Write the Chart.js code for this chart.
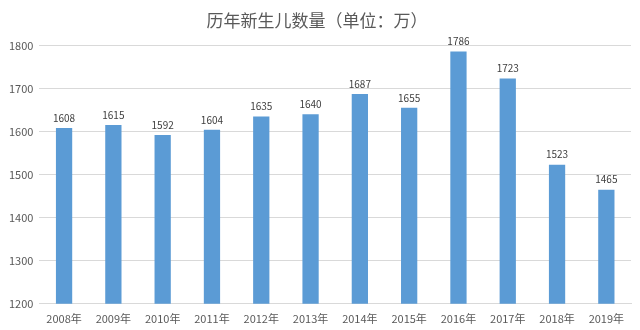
<!DOCTYPE html>
<html>
<head>
<meta charset="utf-8">
<script src="https://cdn.jsdelivr.net/npm/chart.js@4/dist/chart.umd.min.js"></script>
<style>
  html, body { margin: 0; padding: 0; background: #fff; }
  #wrap { width: 640px; height: 330px; }
</style>
</head>
<body>
<div id="wrap"><canvas id="chart"></canvas></div>
<script>
const years = ['2008年', '2009年', '2010年', '2011年', '2012年', '2013年',
               '2014年', '2015年', '2016年', '2017年', '2018年', '2019年'];
const births = [1608, 1615, 1592, 1604, 1635, 1640, 1687, 1655, 1786, 1723, 1523, 1465];
const yMin = 1200;
const yMax = 1800;
const yStep = 100;

const fontFamily = '"Noto Sans CJK SC", "Noto Sans", sans-serif';

// draw the value above each bar
const barLabels = {
    id: 'barLabels',
    afterDatasetsDraw(chart) {
        const ctx = chart.ctx;
        const meta = chart.getDatasetMeta(0);
        ctx.save();
        ctx.font = '10px ' + fontFamily;
        ctx.fillStyle = '#404040';
        ctx.textAlign = 'center';
        ctx.textBaseline = 'bottom';
        meta.data.forEach((bar, i) => {
            ctx.fillText(String(births[i]), bar.x, bar.y - 5);
        });
        ctx.restore();
    }
};

new Chart(document.getElementById('chart'), {
    type: 'bar',
    data: {
        labels: years,
        datasets: [{
            data: births,
            backgroundColor: '#5b9bd5',
            categoryPercentage: 1,
            barPercentage: 0.33
        }]
    },
    options: {
        responsive: true,
        maintainAspectRatio: false,
        animation: false,
        layout: { padding: { left: 3, right: 9, bottom: 5 } },
        plugins: {
            legend: { display: false },
            tooltip: { enabled: false },
            title: {
                display: true,
                text: '历年新生儿数量（单位：万）',
                color: '#595959',
                font: { family: fontFamily, size: 17, weight: 'normal' },
                padding: { top: 10, bottom: 15 }
            }
        },
        scales: {
            x: {
                grid: { display: false },
                border: { color: '#d9d9d9' },
                ticks: {
                    color: '#595959',
                    font: { family: fontFamily, size: 11 },
                    maxRotation: 0,
                    padding: 0
                }
            },
            y: {
                min: yMin,
                max: yMax,
                grid: { color: '#d9d9d9', drawTicks: false },
                border: { display: false },
                ticks: {
                    stepSize: yStep,
                    color: '#595959',
                    font: { family: fontFamily, size: 11 },
                    padding: 6,
                    callback: value => String(value)
                }
            }
        }
    },
    plugins: [barLabels]
});
</script>
</body>
</html>
